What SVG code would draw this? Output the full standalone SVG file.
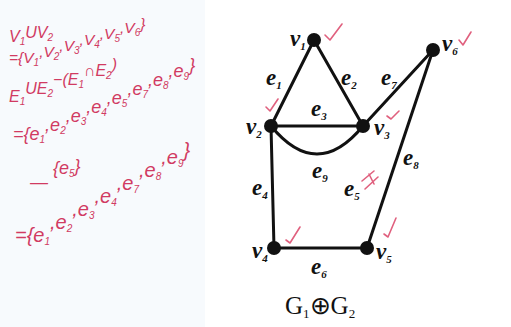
<svg xmlns="http://www.w3.org/2000/svg" width="511" height="327" viewBox="0 0 511 327">
<style>
.hw{font-family:"Liberation Sans",Arial,sans-serif;font-style:italic;fill:#d13a62;font-size:16px}
.s{font-size:10px}
.ck{fill:none;stroke:#e0607e;stroke-width:1.6;stroke-linecap:round;stroke-linejoin:round}
.ed{fill:none;stroke:#111;stroke-width:3;stroke-linecap:round}
.nd{fill:#111}
.lb{font-family:"Liberation Serif","Times New Roman",serif;font-style:italic;font-weight:bold;fill:#111;font-size:23px}
.sb{font-size:11px}
.tt{font-family:"Liberation Serif","Times New Roman",serif;fill:#111;font-size:25px}
</style>
<rect width="511" height="327" fill="#ffffff"/>
<rect x="0" y="0" width="205" height="327" fill="#f7fafd"/>
<g id="notes">
<text class="hw" x="9" y="42">V<tspan class="s" dy="3">1</tspan><tspan dy="-7">UV</tspan><tspan class="s" dy="3">2</tspan></text>
<text class="hw" x="9" y="63" style="font-size:15.5px">={V<tspan class="s" dy="3">1</tspan><tspan dy="-9">,V</tspan><tspan class="s" dy="3">2</tspan><tspan dy="-9">,V</tspan><tspan class="s" dy="3">3</tspan><tspan dy="-9">,V</tspan><tspan class="s" dy="3">4</tspan><tspan dy="-9">,V</tspan><tspan class="s" dy="3">5</tspan><tspan dy="-9">,V</tspan><tspan class="s" dy="3">6</tspan><tspan dy="-7">}</tspan></text>
<text class="hw" x="9" y="102">E<tspan class="s" dy="3">1</tspan><tspan dy="-11">UE</tspan><tspan class="s" dy="3">2</tspan><tspan dy="-12">−(E</tspan><tspan class="s" dy="3">1</tspan><tspan dy="-12">∩E</tspan><tspan class="s" dy="3">2</tspan><tspan dy="-9">)</tspan></text>
<text class="hw" x="13" y="140" style="font-size:18px">={e<tspan class="s" dy="3">1</tspan><tspan dy="-12">,e</tspan><tspan class="s" dy="3">2</tspan><tspan dy="-12">,e</tspan><tspan class="s" dy="3">3</tspan><tspan dy="-12">,e</tspan><tspan class="s" dy="3">4</tspan><tspan dy="-12">,e</tspan><tspan class="s" dy="3">5</tspan><tspan dy="-12">,e</tspan><tspan class="s" dy="3">7</tspan><tspan dy="-12">,e</tspan><tspan class="s" dy="3">8</tspan><tspan dy="-12">,e</tspan><tspan class="s" dy="3">9</tspan><tspan dy="-9">}</tspan></text>
<text class="hw" x="30" y="188" style="font-size:18px">—<tspan dy="-14"> {e</tspan><tspan class="s" dy="3">5</tspan><tspan dy="-5">}</tspan></text>
<text class="hw" x="15" y="242" style="font-size:20px">={e<tspan class="s" dy="3">1</tspan><tspan dy="-16">,e</tspan><tspan class="s" dy="3">2</tspan><tspan dy="-16">,e</tspan><tspan class="s" dy="3">3</tspan><tspan dy="-16">,e</tspan><tspan class="s" dy="3">4</tspan><tspan dy="-16">,e</tspan><tspan class="s" dy="3">7</tspan><tspan dy="-16">,e</tspan><tspan class="s" dy="3">8</tspan><tspan dy="-16">,e</tspan><tspan class="s" dy="3">9</tspan><tspan dy="-10">}</tspan></text>
</g>
<g id="edges">
<line class="ed" x1="314" y1="40" x2="271" y2="126"/>
<line class="ed" x1="314" y1="40" x2="363" y2="126"/>
<line class="ed" x1="271" y1="126" x2="363" y2="126"/>
<path class="ed" d="M271,126 Q317,182 363,126"/>
<line class="ed" x1="363" y1="126" x2="433" y2="50"/>
<line class="ed" x1="433" y1="50" x2="367" y2="248"/>
<line class="ed" x1="271" y1="126" x2="274" y2="248"/>
<line class="ed" x1="274" y1="248" x2="367" y2="248"/>
</g>
<g id="v1"><circle class="nd" cx="314" cy="40" r="7"/><text class="lb" x="290" y="46">v<tspan class="sb" dy="4">1</tspan></text></g>
<g id="v2"><circle class="nd" cx="271" cy="126" r="7"/><text class="lb" x="246" y="134">v<tspan class="sb" dy="4">2</tspan></text></g>
<g id="v3"><circle class="nd" cx="363" cy="126" r="7"/><text class="lb" x="374" y="135">v<tspan class="sb" dy="4">3</tspan></text></g>
<g id="v4"><circle class="nd" cx="274" cy="248" r="7"/><text class="lb" x="252" y="258">v<tspan class="sb" dy="4">4</tspan></text></g>
<g id="v5"><circle class="nd" cx="367" cy="248" r="7"/><text class="lb" x="376" y="259">v<tspan class="sb" dy="4">5</tspan></text></g>
<g id="v6"><circle class="nd" cx="433" cy="50" r="7"/><text class="lb" x="442" y="51">v<tspan class="sb" dy="4">6</tspan></text></g>
<g id="edge-labels">
<text class="lb" x="266" y="85">e<tspan class="sb" dy="4">1</tspan></text>
<text class="lb" x="341" y="85">e<tspan class="sb" dy="4">2</tspan></text>
<text class="lb" x="311" y="116">e<tspan class="sb" dy="4">3</tspan></text>
<text class="lb" x="252" y="195">e<tspan class="sb" dy="4">4</tspan></text>
<text class="lb" x="344" y="196">e<tspan class="sb" dy="4">5</tspan></text>
<text class="lb" x="311" y="274">e<tspan class="sb" dy="4">6</tspan></text>
<text class="lb" x="381" y="85">e<tspan class="sb" dy="4">7</tspan></text>
<text class="lb" x="403" y="165">e<tspan class="sb" dy="4">8</tspan></text>
<text class="lb" x="312" y="178">e<tspan class="sb" dy="4">9</tspan></text>
</g>
<text class="tt" x="285" y="314">G<tspan font-size="13" dy="4">1</tspan><tspan dy="-4">⊕G</tspan><tspan font-size="13" dy="4">2</tspan></text>
<g id="checks">
<path class="ck" d="M325,35 L330,40 L342,24"/>
<path class="ck" d="M459,40 L463,45 L471,32"/>
<path class="ck" d="M266,107 L270,111 L278,99"/>
<path class="ck" d="M387,116 L391,119 L399,111"/>
<path class="ck" d="M362,181 L374,171 M365,189 L378,177 M369,174 L374,184"/>
<path class="ck" d="M286,240 L290,243 L300,227"/>
<path class="ck" d="M384,234 L388,237 L396,218"/>
</g>
</svg>
